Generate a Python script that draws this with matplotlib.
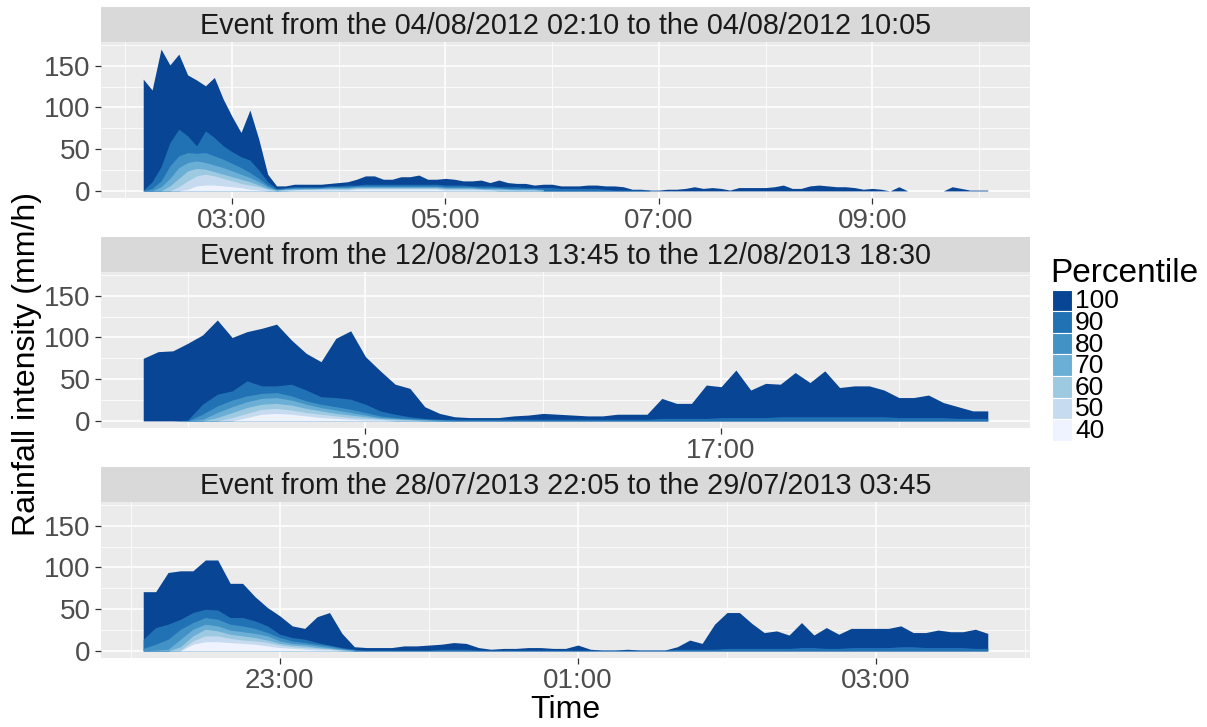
import numpy as np
import pandas as pd
import matplotlib
matplotlib.use("Agg")
import matplotlib.pyplot as plt
import matplotlib.dates as mdates
from matplotlib.patches import Rectangle

plt.rcParams['font.family'] = ['Liberation Sans', 'DejaVu Sans']

# percentile classes and their fills (RColorBrewer Blues, 7 classes)
percentiles = [100, 90, 80, 70, 60, 50, 40]
blues = ['#084594', '#2171B5', '#4292C6', '#6BAED6', '#9ECAE1', '#C6DBEF', '#EFF3FF']

# ---- event 1 : 04/08/2012 02:10 -> 10:05, 5 min steps ----
ev1_title = "Event from the 04/08/2012 02:10 to the 04/08/2012 10:05"
ev1_start = "2012-08-04 02:10"
ev1_p100 = [134, 121, 170, 151, 164, 139, 133, 126, 136, 110, 89, 70, 97, 62, 20, 6,
            6, 8, 8, 8, 8, 9, 10, 11, 14, 18, 18, 14, 14, 17, 17, 19, 14, 14,
            15, 14, 12, 12, 13, 10, 13, 10, 9, 9, 7, 8,
            8, 6, 6, 6, 7, 7, 6, 6, 5, 2, 2, 1,
            1, 2, 2, 3, 5, 3, 4, 3, 1, 4, 4, 4,
            4, 5, 7, 3, 3, 6, 7, 6, 5, 5, 4, 2,
            3, 2, 0, 5, 0, 0, 0, 0, 0, 5, 3, 1, 1, 1]
ev1_p90 = [1, 11, 29, 58, 74, 66, 54, 72, 64, 54, 47, 41, 37, 25, 11, 3,
           4, 5, 5, 5, 5, 6, 6, 7, 7, 8, 8, 8, 8, 8, 8, 8, 8, 8,
           7, 7, 7, 6, 6, 6, 5, 5, 5, 4, 4, 4,
           4, 3, 3, 3, 3, 3, 2, 1, 1, 1, 1, 1]
ev1_p80 = [0, 3, 12, 30, 42, 46, 45, 46, 42, 38, 33, 28, 22, 15, 7, 2,
           3, 4, 4, 4, 4, 5, 5, 5, 6, 6, 6, 6, 6, 6, 6, 6, 6, 6,
           5, 5, 5, 5, 4, 4, 4, 3, 3, 3, 3, 2]
ev1_p70 = [0, 0, 5, 15, 28, 34, 36, 34, 31, 28, 24, 20, 16, 11, 5, 1,
           2, 3, 3, 3, 3, 4, 4, 4, 5, 5, 5, 5, 5, 5, 5, 5, 5, 5,
           4, 4, 4, 4, 3, 3, 3, 2, 2, 2, 2, 1]
ev1_p60 = [0, 0, 0, 6, 15, 24, 27, 26, 23, 20, 17, 14, 11, 7, 3, 1,
           2, 2, 2, 2, 3, 3, 3, 3, 4, 4, 4, 4, 4, 4, 4, 4, 4, 4,
           3, 3, 3, 3, 2, 2, 2, 2, 1, 1, 1, 1]
ev1_p50 = [0, 0, 0, 0, 5, 12, 18, 20, 18, 15, 12, 9, 7, 5, 2, 0,
           1, 1, 2, 2, 2, 2, 2, 2, 3, 3, 3, 3, 3, 3, 3, 3, 3, 3,
           2, 2, 2, 2, 2, 1, 1, 1, 1, 1, 1, 0]
ev1_p40 = [0, 0, 0, 0, 0, 2, 6, 7, 7, 6, 5, 4, 2, 1, 0, 0,
           0, 1, 1, 1, 1, 1, 1, 1, 2, 2, 2, 2, 2, 2, 2, 2, 2, 2,
           1, 1, 1, 1, 1, 1, 0, 0, 0, 0, 0, 0]
ev1_major = [3, 5, 7, 9]
ev1_minor = [2, 4, 6, 8, 10]

# ---- event 2 : 12/08/2013 13:45 -> 18:30 ----
ev2_title = "Event from the 12/08/2013 13:45 to the 12/08/2013 18:30"
ev2_start = "2013-08-12 13:45"
ev2_p100 = [75, 83, 84, 93, 103, 121, 100, 107, 111, 116, 97, 81, 71, 99, 108, 77,
            60, 44, 39, 17, 9, 5, 4, 4, 4, 6, 7, 9,
            8, 7, 6, 6, 8, 8, 8,
            27, 21, 21, 43, 41, 61, 37, 45, 44, 58, 46, 60, 40, 42, 42, 37,
            28, 28, 31, 22, 17, 12, 12]
ev2_p90 = [0, 0, 0, 1, 20, 32, 36, 48, 42, 42, 44, 37, 29, 28, 26, 20, 12, 8, 5, 3, 2, 2,
           2, 2, 2, 2, 2, 2, 2, 2, 2, 2, 2, 2, 2,
           3, 3, 3, 3, 4, 4, 4, 4, 5, 5, 5, 5, 5, 5, 5, 5, 4, 4, 4, 4, 3, 3, 3]
ev2_p80 = [0, 0, 0, 0, 8, 18, 25, 30, 33, 34, 30, 24, 20, 17, 14, 10, 6, 4, 3, 2, 1, 1]
ev2_p70 = [0, 0, 0, 0, 2, 10, 17, 23, 27, 28, 25, 20, 16, 13, 10, 7, 4, 3, 2, 1, 1, 0]
ev2_p60 = [0, 0, 0, 0, 0, 4, 10, 16, 20, 21, 19, 15, 12, 9, 7, 5, 3, 2, 1, 1, 0, 0]
ev2_p50 = [0, 0, 0, 0, 0, 0, 4, 9, 14, 15, 13, 10, 8, 6, 4, 3, 2, 1, 1, 0, 0, 0]
ev2_p40 = [0, 0, 0, 0, 0, 0, 0, 4, 8, 9, 8, 6, 4, 3, 2, 1, 1, 0, 0, 0, 0, 0]
ev2_major = [15, 17]
ev2_minor = [14, 16, 18]

# ---- event 3 : 28/07/2013 22:05 -> 29/07/2013 03:45 ----
ev3_title = "Event from the 28/07/2013 22:05 to the 29/07/2013 03:45"
ev3_start = "2013-07-28 22:05"
ev3_p100 = [71, 71, 94, 96, 96, 109, 109, 81, 81, 65, 52, 42, 30, 27, 41, 46,
            21, 5, 4, 4, 4, 6, 6,
            7, 8, 10, 9, 4, 2, 3, 3, 4, 4, 3, 3, 7, 2, 1, 1, 2, 1, 1, 1,
            5, 13, 9, 32, 46, 46, 33, 22, 24, 19, 34, 19, 28, 20,
            27, 27, 27, 27, 30, 22, 22, 25, 23, 23, 26, 21]
ev3_p90 = [14, 28, 32, 38, 46, 50, 49, 40, 40, 36, 30, 20, 16, 14, 10, 7, 4, 2,
           1, 1, 1, 1, 1, 1, 2, 2, 2, 1, 1, 1, 1, 1, 1, 1, 1, 1, 1, 1, 1, 1, 1, 1, 1, 2, 2, 2,
           2, 3, 3, 3, 3, 3, 3, 4, 4, 3, 3, 4, 4, 4, 4, 5, 5, 4, 4, 4, 4, 3, 3]
ev3_p80 = [3, 8, 14, 26, 34, 40, 38, 32, 30, 27, 22, 16, 12, 10, 8, 6, 3, 1]
ev3_p70 = [0, 1, 2, 14, 26, 32, 30, 25, 23, 21, 18, 12, 9, 8, 6, 4, 2, 1]
ev3_p60 = [0, 0, 0, 5, 18, 26, 24, 20, 18, 16, 13, 9, 7, 6, 4, 3, 1, 0]
ev3_p50 = [0, 0, 0, 1, 12, 18, 18, 15, 13, 12, 10, 7, 5, 4, 3, 2, 1, 0]
ev3_p40 = [0, 0, 0, 0, 8, 11, 11, 10, 9, 8, 6, 4, 3, 2, 1, 1, 0, 0]
ev3_major = [23, 1, 3]
ev3_minor = [22, 0, 2, 4]

events = [
    (ev1_title, ev1_start, [ev1_p100, ev1_p90, ev1_p80, ev1_p70, ev1_p60, ev1_p50, ev1_p40], ev1_major, ev1_minor),
    (ev2_title, ev2_start, [ev2_p100, ev2_p90, ev2_p80, ev2_p70, ev2_p60, ev2_p50, ev2_p40], ev2_major, ev2_minor),
    (ev3_title, ev3_start, [ev3_p100, ev3_p90, ev3_p80, ev3_p70, ev3_p60, ev3_p50, ev3_p40], ev3_major, ev3_minor),
]

# layout in pixels of the 1207x727 canvas
W, H = 1207, 727
left, right = 101, 1030
panel_tops = [42, 272, 502]
panel_h = 156
strip_h = 35

fig = plt.figure(figsize=(W / 100, H / 100), dpi=100)

ymax = max(max(ev[2][0]) for ev in events)
ylim = (-0.05 * ymax, 1.05 * ymax)

for (title, start, series, major_h, minor_h), top in zip(events, panel_tops):
    ax = fig.add_axes([left / W, 1 - (top + panel_h) / H, (right - left) / W, panel_h / H])
    ax.set_facecolor('#EBEBEB')
    for s in ax.spines.values():
        s.set_visible(False)

    t_full = pd.date_range(start, periods=len(series[0]), freq='5min')
    for vals, col in zip(series, blues):
        t = pd.date_range(start, periods=len(vals), freq='5min')
        ax.fill_between(t, 0, vals, color=col, lw=0, zorder=2)

    pad = (t_full[-1] - t_full[0]) * 0.05
    ax.set_xlim(t_full[0] - pad, t_full[-1] + pad)
    ax.set_ylim(*ylim)

    ax.xaxis.set_major_locator(mdates.HourLocator(byhour=major_h))
    ax.xaxis.set_minor_locator(mdates.HourLocator(byhour=minor_h))
    ax.xaxis.set_major_formatter(mdates.DateFormatter('%H:%M'))
    ax.set_yticks([0, 50, 100, 150])
    ax.set_yticks([25, 75, 125, 175], minor=True)

    ax.grid(which='major', color='white', lw=1.1, zorder=0)
    ax.grid(which='minor', color='white', lw=0.55, zorder=0)
    ax.set_axisbelow(True)
    ax.tick_params(which='major', length=4, width=0.9, color='#333333',
                   labelsize=20, labelcolor='#4D4D4D')
    ax.tick_params(axis='x', which='major', pad=3)
    ax.tick_params(axis='y', which='major', pad=3.5)
    ax.tick_params(which='minor', length=0)

    strip = fig.add_axes([left / W, 1 - top / H, (right - left) / W, strip_h / H])
    strip.set_facecolor('#D9D9D9')
    strip.set_xticks([])
    strip.set_yticks([])
    for s in strip.spines.values():
        s.set_visible(False)
    strip.text(0.5, 0.45, title, transform=strip.transAxes, ha='center', va='center',
               fontsize=20.7, color='#1A1A1A')

fig.text(27 / W, 1 - 364 / H, 'Rainfall intensity (mm/h)', rotation=90,
         ha='center', va='center', fontsize=23, color='black')
fig.text(565 / W, 1 - 710 / H, 'Time', ha='center', va='center', fontsize=23, color='black')

# legend drawn in pixel coordinates
lax = fig.add_axes([0, 0, 1, 1], zorder=5)
lax.set_xlim(0, W)
lax.set_ylim(H, 0)
lax.axis('off')
lax.text(1050, 274, 'Percentile', ha='left', va='center', fontsize=24, color='black')
key_top, key_h = 289.5, 21.6
for k, (p, col) in enumerate(zip(percentiles, blues)):
    y0 = key_top + k * key_h
    lax.add_patch(Rectangle((1052, y0), 20, key_h, facecolor=col, edgecolor='white', lw=0.8))
    lax.text(1075, y0 + key_h / 2 + 1, str(p), ha='left', va='center', fontsize=19, color='black')

fig.savefig('out.png', dpi=100)
